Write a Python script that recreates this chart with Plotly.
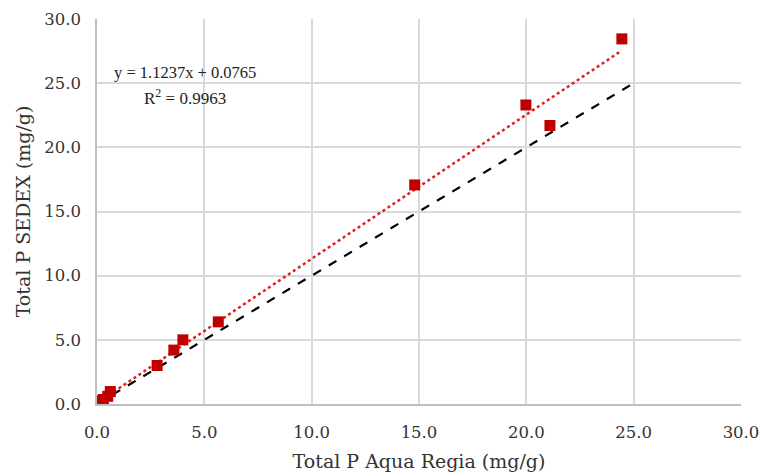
import plotly.graph_objects as go

aqua_regia = [24.45, 19.98, 21.1, 14.8, 5.65, 4.0, 3.58, 2.8, 0.62, 0.5, 0.3, 0.22, 0.12, 0.08]
sedex = [28.45, 23.3, 21.7, 17.07, 6.4, 5.0, 4.2, 3.0, 0.97, 0.6, 0.35, 0.25, 0.15, 0.1]
slope = 1.1237
intercept = 0.0765
identity = [0, 25]
x_ticks = [0, 5, 10, 15, 20, 25, 30]

xmin, xmax = min(aqua_regia), max(aqua_regia)
trend_x = [xmin, xmax]
trend_y = [slope * v + intercept for v in trend_x]

fig = go.Figure()
fig.add_trace(go.Scatter(x=identity, y=identity, mode="lines",
                         line=dict(color="black", width=2.2, dash="dash"),
                         showlegend=False, hoverinfo="skip"))
fig.add_trace(go.Scatter(x=trend_x, y=trend_y, mode="lines",
                         line=dict(color="#E0201B", width=2.5, dash="dot"),
                         showlegend=False, hoverinfo="skip"))
fig.add_trace(go.Scatter(x=aqua_regia, y=sedex, mode="markers",
                         marker=dict(symbol="square", size=11, color="#C00000"),
                         showlegend=False))

font = "DejaVu Serif, Liberation Serif, serif"
eq_font = "Liberation Serif, DejaVu Serif, serif"
fig.add_annotation(x=4.1, y=25.8, xref="x", yref="y",
                   text="y = 1.1237x + 0.0765", showarrow=False,
                   font=dict(family=eq_font, size=16.5, color="#222"))
fig.add_annotation(x=4.1, y=23.95, xref="x", yref="y",
                   text="R<sup>2</sup> = 0.9963", showarrow=False,
                   font=dict(family=eq_font, size=17, color="#222"))

axis_common = dict(showgrid=True, gridcolor="#D9D9D9", gridwidth=1.5,
                   showline=True, linecolor="#BFBFBF", linewidth=1.5,
                   zeroline=False, tickformat=".1f", ticks="", automargin=False,
                   tickfont=dict(family=font, size=16.5, color="#333"))
fig.update_xaxes(range=[0, 30], tickvals=x_ticks, ticklabelstandoff=12,
                 title=dict(text="Total P Aqua Regia (mg/g)",
                            font=dict(family=font, size=19, color="#333"), standoff=14),
                 **axis_common)
fig.update_yaxes(range=[0, 30], tickvals=x_ticks, ticklabelstandoff=11,
                 title=dict(text="Total P SEDEX (mg/g)",
                            font=dict(family=font, size=19, color="#333"), standoff=9),
                 **axis_common)
fig.update_layout(width=763, height=475, plot_bgcolor="white", paper_bgcolor="white",
                  margin=dict(l=97, r=22, t=19, b=71))
fig.write_html("out.html")
